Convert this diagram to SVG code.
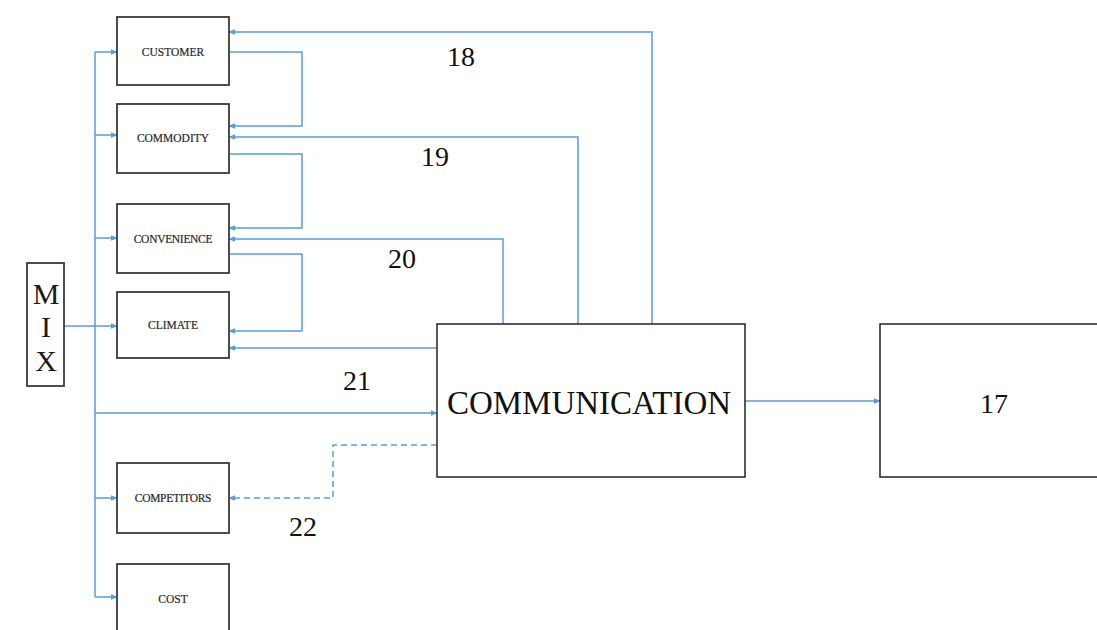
<svg xmlns="http://www.w3.org/2000/svg" width="1097" height="630" viewBox="0 0 1097 630">
<defs>
<marker id="ah" viewBox="0 0 10 10" refX="9" refY="5" markerWidth="7" markerHeight="7" orient="auto" markerUnits="userSpaceOnUse">
<path d="M0,1 L10,5 L0,9 z" fill="#5b9bd5"/>
</marker>
<style>
.box{fill:#fff;stroke:#3a3a3a;stroke-width:1.8}
.big{fill:#fff;stroke:#222;stroke-width:1.5}
.lbl{font-family:"Liberation Serif",serif;font-size:11.5px;fill:#2a2a2a;text-anchor:middle;stroke:#2a2a2a;stroke-width:0.2}
.num{font-family:"Liberation Serif",serif;font-size:28px;fill:#111;text-anchor:middle}
.mix{font-family:"Liberation Serif",serif;font-size:30px;fill:#1a1a1a;text-anchor:middle}
.c{fill:none;stroke:#5b9bd5;stroke-width:1.5}
.d{stroke-dasharray:6,4}
.a{marker-end:url(#ah)}
</style>
</defs>
<rect width="1097" height="630" fill="#fff"/>
<g id="connectors">
<path class="c" d="M95,52 V597"/>
<path class="c a" d="M95,52 H117"/>
<path class="c a" d="M95,135 H117"/>
<path class="c a" d="M95,238 H117"/>
<path class="c a" d="M64,326 H117"/>
<path class="c a" d="M95,498 H117"/>
<path class="c a" d="M95,597 H117"/>
<path class="c a" d="M95,413 H437"/>
<path class="c a" d="M229,52 H302 V126 H229"/>
<path class="c a" d="M229,154 H302 V228 H229"/>
<path class="c a" d="M229,254 H302 V331 H229"/>
<path class="c a" d="M652,324 V32 H229"/>
<path class="c a" d="M578,324 V137 H229"/>
<path class="c a" d="M503,324 V239 H229"/>
<path class="c a" d="M437,348 H229"/>
<path class="c a d" d="M437,445 H333 V498 H229"/>
<path class="c a" d="M745,401 H880"/>
</g>
<g id="mix">
<rect class="box" x="27" y="263" width="37" height="123"/>
<text class="mix" x="46" y="304">M</text>
<text class="mix" x="46" y="337">I</text>
<text class="mix" x="46" y="371">X</text>
</g>
<g id="customer"><rect class="box" x="117" y="17" width="112" height="68"/><text class="lbl" x="173" y="56">CUSTOMER</text></g>
<g id="commodity"><rect class="box" x="117" y="104" width="112" height="69"/><text class="lbl" x="173" y="142">COMMODITY</text></g>
<g id="convenience"><rect class="box" x="117" y="204" width="112" height="69"/><text class="lbl" x="173" y="243" letter-spacing="-0.3">CONVENIENCE</text></g>
<g id="climate"><rect class="box" x="117" y="292" width="112" height="66"/><text class="lbl" x="173" y="329">CLIMATE</text></g>
<g id="competitors"><rect class="box" x="117" y="463" width="112" height="70"/><text class="lbl" x="173" y="502" letter-spacing="-0.3">COMPETITORS</text></g>
<g id="cost"><rect class="box" x="117" y="564" width="112" height="70"/><text class="lbl" x="173" y="603">COST</text></g>
<g id="communication"><rect class="big" x="437" y="324" width="308" height="153"/><text x="589" y="414" font-family="Liberation Serif,serif" font-size="33" fill="#111" text-anchor="middle">COMMUNICATION</text></g>
<g id="n17"><rect class="big" x="880" y="324" width="230" height="153"/><text class="num" x="994" y="413">17</text></g>
<g id="labels">
<text class="num" x="461" y="66">18</text>
<text class="num" x="435" y="166">19</text>
<text class="num" x="402" y="268">20</text>
<text class="num" x="357" y="390">21</text>
<text class="num" x="303" y="536">22</text>
</g>
</svg>
